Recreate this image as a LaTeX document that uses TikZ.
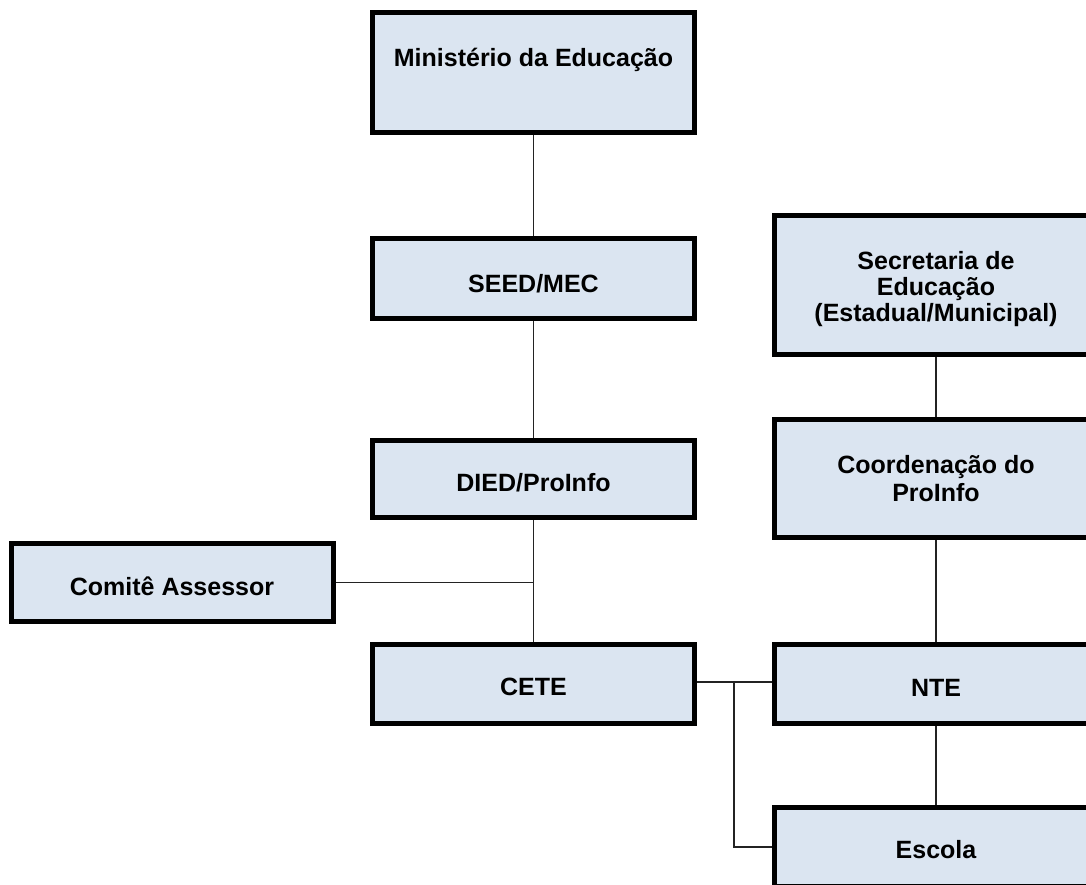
\documentclass[tikz,border=0pt]{standalone}
\usepackage{fontspec}
\setmainfont{Liberation Sans}
\definecolor{boxfill}{RGB}{219,229,241}
\definecolor{connline}{RGB}{35,35,35}
\begin{document}
\begin{tikzpicture}[x=1pt,y=-1pt,
  box/.style={draw=black, line width=5pt, fill=boxfill, rectangle, inner sep=0pt,
    minimum width=322pt, align=center,
    font=\bfseries\fontsize{25}{26}\selectfont},
  conn/.style={line width=1.6pt, draw=connline}]
\useasboundingbox (0,0) rectangle (1086,884);
\clip (0,0) rectangle (1086,884);
% left column
\node[box, minimum height=120pt, text height=17.9pt, text depth=30pt] (min) at (533.5,72.5) {Ministério da Educação};
\node[box, minimum height=80pt, text height=28.9pt, text depth=0pt] (seed) at (533.5,278.5) {SEED/MEC};
\node[box, minimum height=77pt, text height=24.9pt, text depth=0pt] (died) at (533.5,479) {DIED/ProInfo};
\node[box, minimum height=79pt, text height=23.9pt, text depth=0pt] (cete) at (533.5,684) {CETE};
\node[box, minimum height=78pt, text height=25.9pt, text depth=0pt] (com) at (172,582.5) {Comitê Assessor};
% right column
\node[box, minimum width=323pt, minimum height=139pt] (sec) at (936,285) {\rule{0pt}{26.3pt}Secretaria de\\Educação\\(Estadual/Municipal)};
\node[box, minimum width=323pt, minimum height=118pt, font=\bfseries\fontsize{25}{28}\selectfont] (coo) at (936,478.5) {Coordenação do\\ProInfo};
\node[box, minimum width=323pt, minimum height=79pt, text height=25.9pt, text depth=0pt] (nte) at (936,684) {NTE};
\node[box, minimum width=323pt, minimum height=79pt, text height=23.9pt, text depth=0pt] (esc) at (936,847) {Escola};
% connectors
\draw[conn] (min.south) -- (seed.north);
\draw[conn] (seed.south) -- (died.north);
\draw[conn] (died.south) -- (cete.north);
\draw[conn] (com.east) -- (com.east -| died.south);
\draw[conn] (sec.south) -- (coo.north);
\draw[conn] (coo.south) -- (nte.north);
\draw[conn] (nte.south) -- (esc.north);
\draw[conn] ([yshift=2pt]cete.east) -- ([yshift=2pt]nte.west);
\coordinate (br) at ([yshift=2pt]cete.east -| 734,0);
\draw[conn] (br) |- (esc.west);
\end{tikzpicture}
\end{document}
